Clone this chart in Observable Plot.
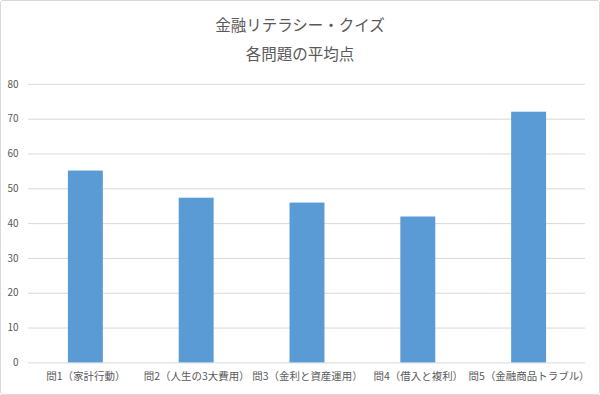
<!DOCTYPE html>
<html><head><meta charset="utf-8">
<script src="https://cdn.jsdelivr.net/npm/d3@7"></script>
<script src="https://cdn.jsdelivr.net/npm/@observablehq/plot@0.6"></script>
<style>
html,body{margin:0;padding:0;background:#fff;}
#wrap{position:relative;width:600px;height:395px;box-sizing:border-box;border:1px solid #d9d9d9;border-radius:3px;overflow:hidden;font-family:"Noto Sans CJK JP","Noto Sans",sans-serif;}
.t{position:absolute;left:0;width:100%;text-align:center;color:#595959;font-size:15.5px;}
#chart{position:absolute;left:-1px;top:-1px;}
</style></head>
<body><div id="wrap">
<div class="t" id="title" style="top:12px">金融リテラシー・クイズ</div>
<div class="t" id="subtitle" style="top:41px">各問題の平均点</div>
<div id="chart"></div>
</div>
<script>
const categories = ["問1（家計行動）","問2（人生の3大費用）","問3（金利と資産運用）","問4（借入と複利）","問5（金融商品トラブル）"];
const values = [55.1, 47.3, 45.9, 41.9, 72.0];
const yTicks = [0,10,20,30,40,50,60,70,80];
const data = categories.map((c,i)=>({cat:c, val:values[i]}));

const chart = Plot.plot({
  width: 600, height: 395,
  marginTop: 84, marginBottom: 32, marginLeft: 28, marginRight: 14,
  style: {fontFamily: '"Noto Sans CJK JP","Noto Sans",sans-serif', fontSize: "10px", color: "#595959", background: "transparent"},
  x: {domain: categories, paddingInner: 0.686, paddingOuter: 0.343, label: null},
  y: {domain: [0,80], label: null},
  marks: [
    Plot.ruleY(yTicks, {stroke: "#d9d9d9", strokeWidth: 1}),
    Plot.barY(data, {x: "cat", y: "val", fill: "#5b9bd5"}),
    Plot.axisY({ticks: yTicks, tickSize: 0, tickPadding: 10, label: null, fill: "#595959", fontSize: 10}),
    Plot.axisX({tickSize: 0, tickPadding: 10, label: null, fill: "#595959", fontSize: 10.5})
  ]
});
document.getElementById("chart").appendChild(chart);
</script>
</body></html>
